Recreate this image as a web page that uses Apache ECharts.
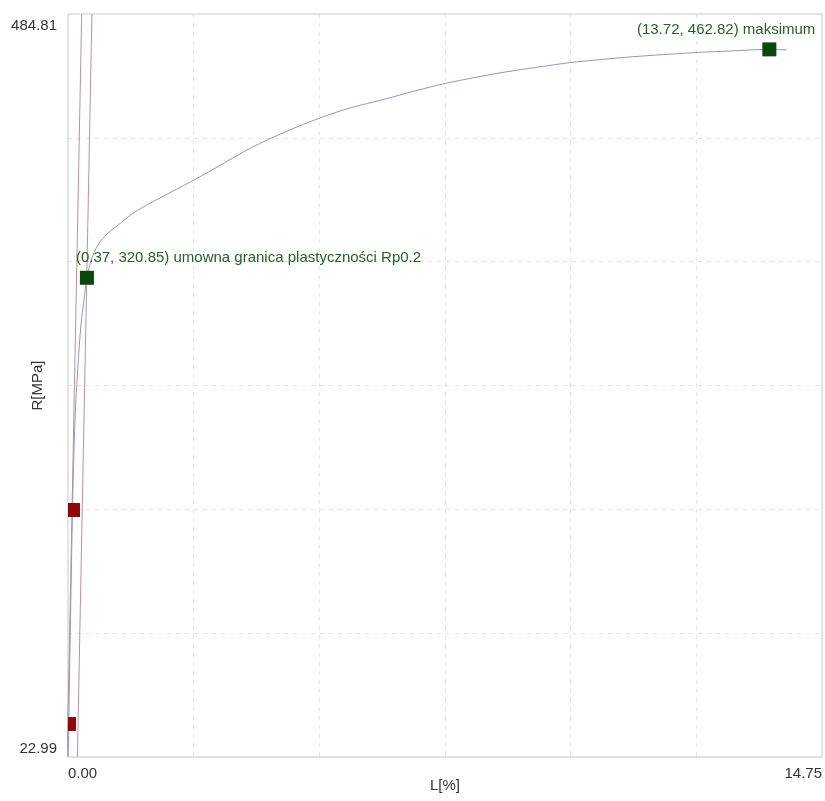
<!DOCTYPE html>
<html>
<head>
<meta charset="utf-8">
<script src="https://cdn.jsdelivr.net/npm/echarts@6/dist/echarts.min.js"></script>
<style>
  html, body { margin: 0; padding: 0; background: #ffffff; }
  #chart { width: 825px; height: 801px; }
</style>
</head>
<body>
<div id="chart"></div>
<script>
// Tensile test: stress R [MPa] versus strain L [%]
const xRange = [0, 14.75];
const yRange = [22.99, 484.81];

// Measured stress-strain curve [L %, R MPa]
const curvePoints = [
  [0.006, 23.5], [0.015, 44.0], [0.088, 176.5], [0.137, 232.5], [0.196, 266.7],
  [0.254, 291.6], [0.313, 307.1], [0.370, 320.85], [0.469, 333.2], [0.587, 341.3],
  [0.704, 346.3], [0.959, 353.1], [1.311, 361.8], [1.800, 370.5], [2.387, 380.3],
  [2.876, 388.9], [3.560, 401.3], [4.245, 411.5], [4.930, 420.2], [5.516, 426.4],
  [6.162, 431.6], [6.788, 437.0], [7.414, 441.9], [8.451, 448.2], [9.429, 452.9],
  [9.879, 454.8], [10.994, 458.1], [12.305, 460.9], [12.950, 461.8], [13.720, 462.82],
  [14.065, 462.5]
];

// Elastic (modulus) line and the same line offset by 0.2 %
const elasticLine = [[-0.016, 22.99], [0.268, 484.81]];
const offsetLine = [[0.184, 22.99], [0.468, 484.81]];

// Points bounding the modulus fit
const fitPoints = [[0.020, 43.5], [0.098, 176.5]];

// Characteristic points with their descriptions
const keyPoints = [[0.37, 320.85], [13.72, 462.82]];
const keyNames = ['umowna granica plastyczności Rp0.2', 'maksimum'];

const FONT = "'Liberation Sans', Arial, sans-serif";
const fmt2 = v => v.toFixed(2);
const near = (a, b) => Math.abs(a - b) < 1e-6;

const chart = echarts.init(document.getElementById('chart'), null, { renderer: 'canvas' });

chart.setOption({
  animation: false,
  backgroundColor: '#ffffff',
  grid: {
    left: 68, top: 14, right: 3, bottom: 44,
    outerBoundsMode: 'none', containLabel: false,
    show: true, borderColor: '#c6c6c6', borderWidth: 1, backgroundColor: 'transparent'
  },
  xAxis: [
    {
      type: 'value', min: xRange[0], max: xRange[1], position: 'bottom',
      name: 'L[%]', nameLocation: 'middle', nameGap: 21, nameMoveOverlap: false,
      nameTextStyle: { color: '#333', fontSize: 15, fontFamily: FONT },
      axisLine: { show: false }, axisTick: { show: false }, splitLine: { show: false },
      axisLabel: {
        color: '#333', fontSize: 15, fontFamily: FONT, margin: 9,
        showMinLabel: true, showMaxLabel: true,
        alignMinLabel: 'left', alignMaxLabel: 'right',
        formatter: v => (near(v, xRange[0]) || near(v, xRange[1])) ? fmt2(v) : ''
      }
    },
    {
      // six equal divisions for the dashed grid
      type: 'value', min: 0, max: 6, interval: 1, position: 'top',
      axisLine: { show: false }, axisTick: { show: false }, axisLabel: { show: false },
      splitLine: { show: true, lineStyle: { color: '#e4e4e4', type: [4, 5], width: 1 } }
    }
  ],
  yAxis: [
    {
      type: 'value', min: yRange[0], max: yRange[1], position: 'left',
      name: 'R[MPa]', nameLocation: 'middle', nameGap: 23, nameRotate: 90,
      nameMoveOverlap: false,
      nameTextStyle: { color: '#333', fontSize: 15, fontFamily: FONT },
      axisLine: { show: false }, axisTick: { show: false }, splitLine: { show: false },
      axisLabel: {
        color: '#333', fontSize: 15, fontFamily: FONT, margin: 11,
        showMinLabel: true, showMaxLabel: true,
        verticalAlignMinLabel: 'bottom', verticalAlignMaxLabel: 'top',
        formatter: v => near(v, yRange[1]) ? '{hi|' + fmt2(v) + '}'
          : (near(v, yRange[0]) ? '{lo|' + fmt2(v) + '}' : ''),
        rich: {
          hi: { color: '#333', fontSize: 15, fontFamily: FONT, padding: [4, 0, 0, 0] },
          lo: { color: '#333', fontSize: 15, fontFamily: FONT, padding: [0, 0, 1, 0] }
        }
      }
    },
    {
      type: 'value', min: 0, max: 6, interval: 1, position: 'right',
      axisLine: { show: false }, axisTick: { show: false }, axisLabel: { show: false },
      splitLine: { show: true, lineStyle: { color: '#e4e4e4', type: [4, 5], width: 1 } }
    }
  ],
  series: [
    {
      name: 'elastic', type: 'line', data: elasticLine, clip: true,
      showSymbol: false, silent: true,
      lineStyle: { color: '#bb9299', width: 1 }, z: 3
    },
    {
      name: 'offset', type: 'line', data: offsetLine, clip: true,
      showSymbol: false, silent: true,
      lineStyle: { color: '#bb9299', width: 1 }, z: 3
    },
    {
      name: 'curve', type: 'line', data: curvePoints, clip: true,
      showSymbol: false, smooth: 0.3,
      lineStyle: { color: '#9597ba', width: 1 }, z: 4
    },
    {
      // fit-range markers, clipped to the plot frame
      name: 'fit', type: 'custom', data: fitPoints, z: 5,
      renderItem: (params, api) => {
        const p = api.coord([api.value(0), api.value(1)]);
        const s = 14;
        const cs = params.coordSys;
        const shape = echarts.graphic.clipRectByRect(
          { x: p[0] - s / 2, y: p[1] - s / 2, width: s, height: s },
          { x: cs.x, y: cs.y, width: cs.width, height: cs.height }
        );
        return shape ? { type: 'rect', shape: shape, style: { fill: '#8a0b0b' } } : null;
      }
    },
    {
      name: 'key', type: 'scatter', symbol: 'rect', symbolSize: 14, z: 6,
      itemStyle: { color: '#0a480c', opacity: 1 },
      data: keyPoints.map((p, i) => ({
        value: p,
        label: {
          show: true, position: 'top', distance: 5,
          align: i === 0 ? 'left' : 'right',
          offset: i === 0 ? [-11, 0] : [46, 0],
          formatter: '(' + fmt2(p[0]) + ', ' + fmt2(p[1]) + ') ' + keyNames[i],
          color: '#275f27', fontSize: 15, fontFamily: FONT
        }
      }))
    }
  ]
});
</script>
</body>
</html>
